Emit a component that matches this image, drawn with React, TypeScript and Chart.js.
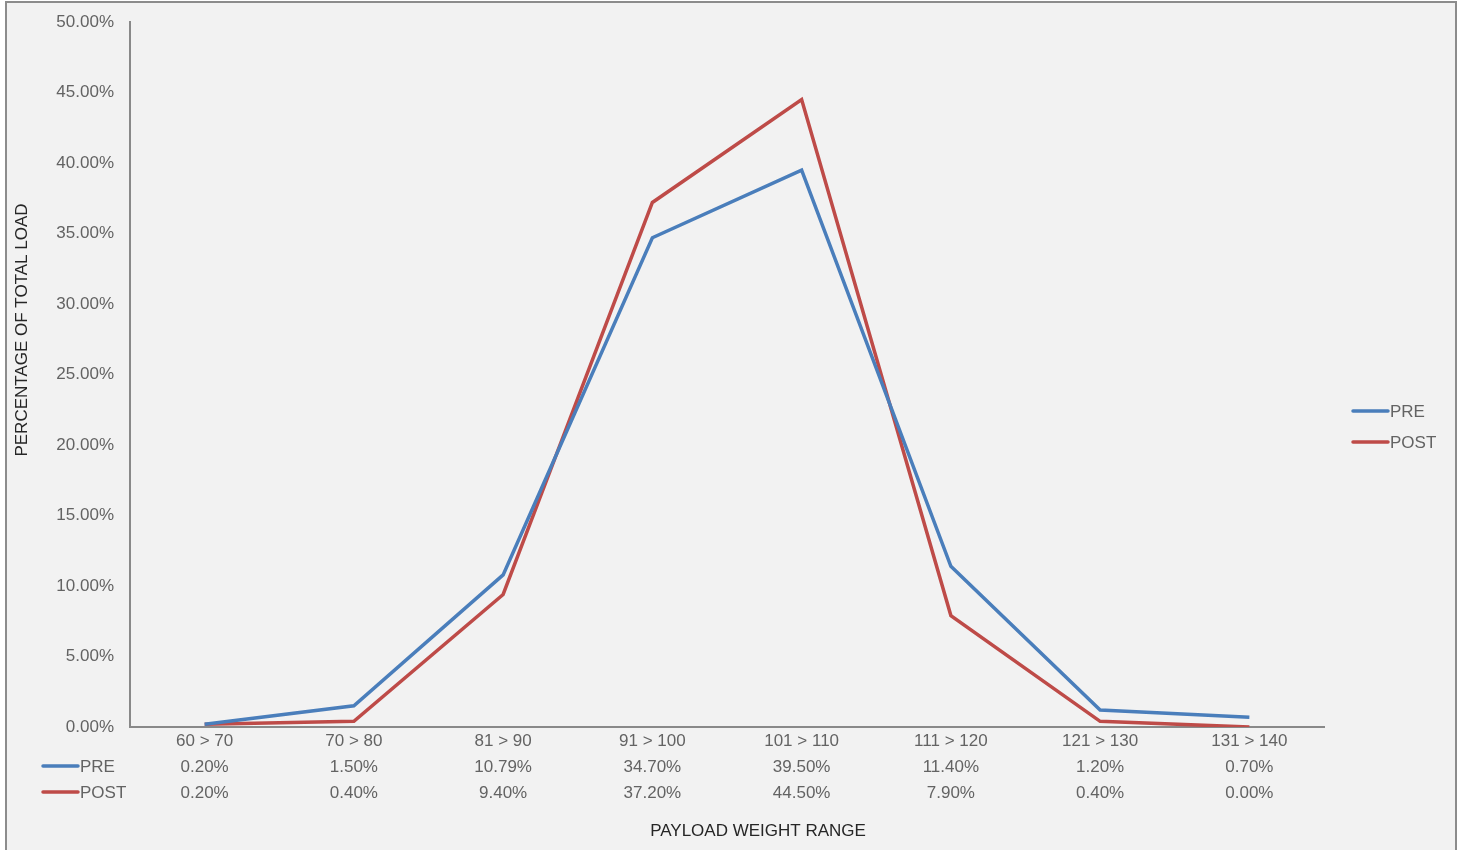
import React, { useEffect, useRef } from "react";
import { Chart, registerables } from "chart.js";

Chart.register(...registerables);

const categories = ["60 > 70", "70 > 80", "81 > 90", "91 > 100", "101 > 110", "111 > 120", "121 > 130", "131 > 140"];
const preValues = [0.2, 1.5, 10.79, 34.7, 39.5, 11.4, 1.2, 0.7];
const postValues = [0.2, 0.4, 9.4, 37.2, 44.5, 7.9, 0.4, 0.0];
const seriesNames = ["PRE", "POST"];
const seriesColors = ["#4a7ebb", "#be4b48"];
const yTitle = "PERCENTAGE OF TOTAL LOAD";
const xTitle = "PAYLOAD WEIGHT RANGE";

const FONT = "'Liberation Sans', Arial, sans-serif";
const TICK_COLOR = "#636363";
const TITLE_COLOR = "#262626";

export default function App() {
  const ref = useRef<HTMLCanvasElement | null>(null);

  useEffect(() => {
    document.body.style.margin = "0";
    const canvas = ref.current!;
    const series = [preValues, postValues];

    const extras = {
      id: "extras",
      afterDraw(chart: any) {
        const ctx = chart.ctx as CanvasRenderingContext2D;
        const x = chart.scales.x;
        ctx.save();
        ctx.font = `17px ${FONT}`;
        ctx.textBaseline = "middle";
        const rowYs = [767, 793];
        series.forEach((vals, s) => {
          ctx.fillStyle = TICK_COLOR;
          ctx.textAlign = "center";
          vals.forEach((v, i) => {
            ctx.fillText(v.toFixed(2) + "%", x.getPixelForValue(i), rowYs[s]);
          });
          ctx.strokeStyle = seriesColors[s];
          ctx.lineWidth = 3.5;
          ctx.lineCap = "round";
          ctx.beginPath();
          ctx.moveTo(43, rowYs[s] - 1);
          ctx.lineTo(78, rowYs[s] - 1);
          ctx.stroke();
          ctx.textAlign = "left";
          ctx.fillText(seriesNames[s], 80, rowYs[s]);
          const ly = [411, 442][s];
          ctx.beginPath();
          ctx.moveTo(1353, ly);
          ctx.lineTo(1388, ly);
          ctx.stroke();
          ctx.fillText(seriesNames[s], 1390, ly + 1);
        });
        ctx.fillStyle = TITLE_COLOR;
        ctx.textAlign = "center";
        ctx.font = `17px ${FONT}`;
        ctx.fillText(xTitle, 758, 831);
        ctx.translate(22, 330);
        ctx.rotate(-Math.PI / 2);
        ctx.fillText(yTitle, 0, 0);
        ctx.restore();
      },
    };

    const chart = new Chart(canvas, {
      type: "line",
      data: {
        labels: categories,
        datasets: seriesNames.map((n, s) => ({
          label: n,
          data: series[s],
          borderColor: seriesColors[s],
          backgroundColor: seriesColors[s],
          borderWidth: 3.5,
          pointRadius: 0,
          tension: 0,
        })),
      },
      options: {
        animation: false,
        responsive: false,
        maintainAspectRatio: false,
        layout: { padding: { left: 0, right: 135, top: 22, bottom: 0 } },
        plugins: {
          legend: { display: false },
          tooltip: { enabled: false },
        },
        scales: {
          x: {
            offset: true,
            grid: { display: false, drawTicks: false },
            border: { color: "#898989", width: 2 },
            ticks: {
              color: TICK_COLOR,
              font: { family: FONT, size: 17 },
              padding: 4,
              maxRotation: 0,
              autoSkip: false,
            },
            afterFit: (s: any) => {
              s.height = 123;
            },
          },
          y: {
            min: 0,
            max: 50,
            grid: {
              display: true,
              drawOnChartArea: false,
              drawTicks: true,
              tickLength: 16,
              color: "rgba(0,0,0,0)",
            },
            border: { color: "#898989", width: 2 },
            ticks: {
              stepSize: 5,
              color: TICK_COLOR,
              font: { family: FONT, size: 17 },
              padding: 0,
              callback: (v: any) => Number(v).toFixed(2) + "%",
            },
            afterFit: (s: any) => {
              s.width = 130;
            },
          },
        },
      },
      plugins: [extras],
    });
    return () => chart.destroy();
  }, []);

  return (
    <div style={{ position: "relative", width: 1459, height: 850, overflow: "hidden", background: "#ffffff" }}>
      <div
        style={{
          position: "absolute",
          left: 5,
          top: 1,
          width: 1448,
          height: 900,
          border: "2px solid #8c8c8c",
          background: "#f2f2f2",
        }}
      />
      <canvas ref={ref} width={1459} height={850} style={{ position: "absolute", left: 0, top: 0, width: 1459, height: 850 }} />
    </div>
  );
}
